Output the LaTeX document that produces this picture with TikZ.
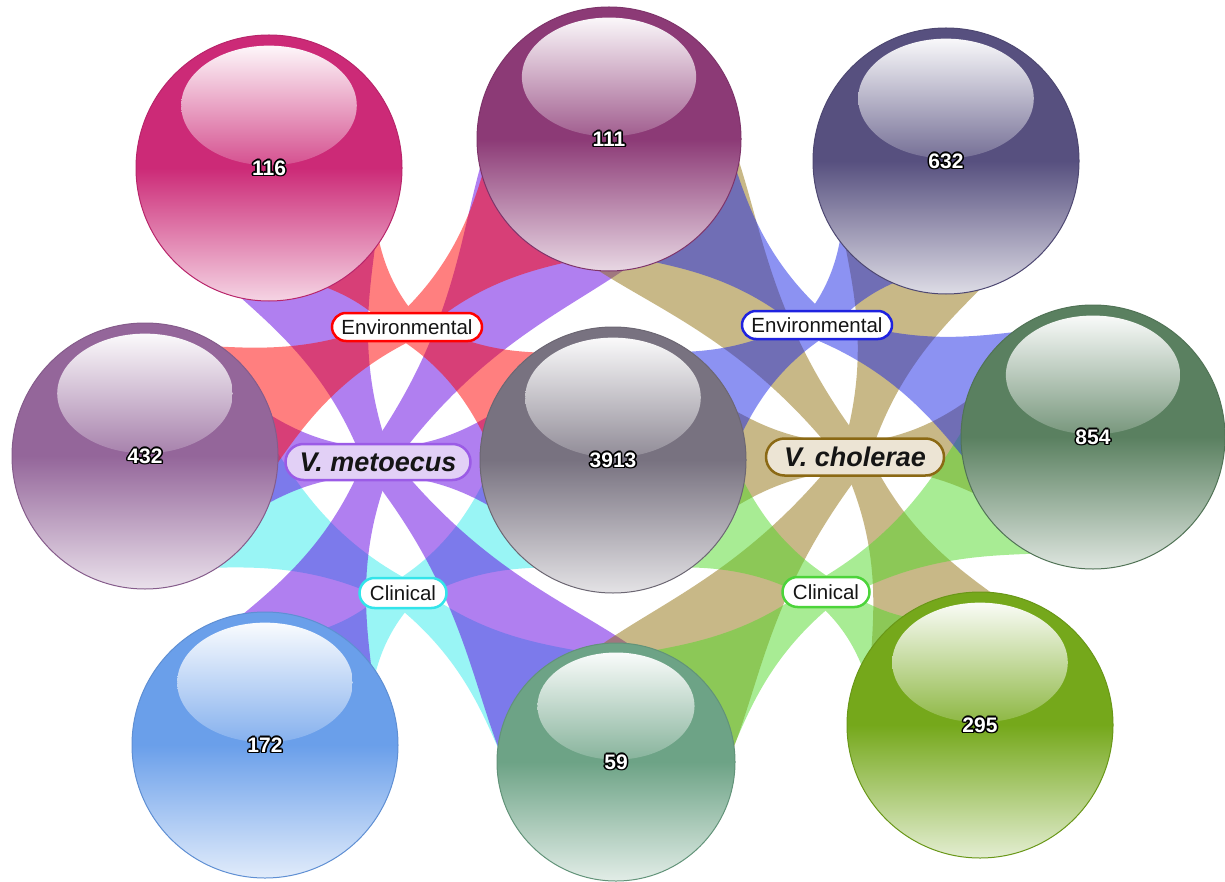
\documentclass[tikz,border=0pt]{standalone}
\usepackage{fontspec}
\setmainfont{Liberation Sans}
\usetikzlibrary{calc,shapes.misc}

% sphere colours
\definecolor{cA}{HTML}{CC2A77}
\definecolor{cB}{HTML}{8C3A76}
\definecolor{cC}{HTML}{57507F}
\definecolor{cD}{HTML}{94669A}
\definecolor{cE}{HTML}{787280}
\definecolor{cF}{HTML}{5A8060}
\definecolor{cG}{HTML}{6A9FEA}
\definecolor{cH}{HTML}{6DA386}
\definecolor{cI}{HTML}{75A81B}
% ribbon colours (drawn at half opacity)
\definecolor{rRed}{HTML}{FF0000}
\definecolor{rPur}{HTML}{6100E1}
\definecolor{rTan}{HTML}{91710F}
\definecolor{rBlu}{HTML}{1925E5}
\definecolor{rCya}{HTML}{33EBEB}
\definecolor{rGrn}{HTML}{51D929}
% label colours
\definecolor{bPur}{HTML}{9B5BE6}
\definecolor{fPur}{HTML}{E2D0F6}
\definecolor{bTan}{HTML}{8B6914}
\definecolor{fTan}{HTML}{ECE4D4}
\definecolor{bBlu}{HTML}{1E22E0}
\definecolor{bCya}{HTML}{33E4EA}
\definecolor{bGrn}{HTML}{4CD43A}
\definecolor{ink}{HTML}{151515}

\pgfdeclarelayer{ribbons}
\pgfsetlayers{ribbons,main}

% white digits with a dark outline
\newcommand\outlined[1]{{%
  \def\o##1##2{\makebox[0pt][l]{\hspace*{##1}\raisebox{##2}{\color{black}#1}}}%
  \o{-0.8pt}{0pt}\o{0.8pt}{0pt}\o{0pt}{0.8pt}\o{0pt}{-0.8pt}%
  \o{-0.6pt}{-0.6pt}\o{0.6pt}{0.6pt}\o{-0.6pt}{0.6pt}\o{0.6pt}{-0.6pt}%
  {\color{white}#1}}}

% glossy sphere: name, x, y, radius (px), colour, count
% (a shaded path is covered by the middle 25bp--75bp band of the shading)
\newcommand\sphere[6]{%
  \pgfdeclareverticalshading{body-#1}{100bp}{color(0bp)=(#5!20!white);
    color(25bp)=(#5!20!white); color(50bp)=(#5); color(100bp)=(#5)}%
  \pgfdeclareverticalshading{gloss-#1}{100bp}{color(0bp)=(#5!82!white);
    color(25bp)=(#5!82!white); color(75bp)=(#5!4!white); color(100bp)=(#5!4!white)}%
  \shade[shading=body-#1] (#2,#3) circle[radius={#4*0.5pt}];
  \draw[#5!90!black, line width=0.5pt] (#2,#3) circle[radius={#4*0.5pt}];
  \shade[shading=gloss-#1]
    (#2,{#3-0.47*#4}) ellipse[x radius={0.66*#4*0.5pt}, y radius={0.45*#4*0.5pt}];
  \node[count] (#1) at (#2,#3) {\outlined{#6}};}

% tapered ribbon from a label to a sphere of given radius (px)
\def\ribw{7}       % half width at the label, pt
\def\ribend{0.41}  % half width at the sphere centre, share of the radius in px
\def\bA{0.52}
\def\bB{0.3}
\newcommand\ribbon[3]{%
  \fill[ribcolor] let \p1=(#1.center), \p2=(#2.center),
    \n1={atan2(\y2-\y1,\x2-\x1)+90},
    \n2={#3*\ribend}
  in ({\x1+\ribw*cos(\n1)},{\y1+\ribw*sin(\n1)})
   .. controls ({\x1+\ribw*cos(\n1)+\bA*(\x2-\x1)},{\y1+\ribw*sin(\n1)+\bA*(\y2-\y1)})
   and ({\x2+\n2*cos(\n1)-\bB*(\x2-\x1)},{\y2+\n2*sin(\n1)-\bB*(\y2-\y1)})
   .. ({\x2+\n2*cos(\n1)},{\y2+\n2*sin(\n1)})
   -- ({\x2-\n2*cos(\n1)},{\y2-\n2*sin(\n1)})
   .. controls ({\x2-\n2*cos(\n1)-\bB*(\x2-\x1)},{\y2-\n2*sin(\n1)-\bB*(\y2-\y1)})
   and ({\x1-\ribw*cos(\n1)+\bA*(\x2-\x1)},{\y1-\ribw*sin(\n1)+\bA*(\y2-\y1)})
   .. ({\x1-\ribw*cos(\n1)},{\y1-\ribw*sin(\n1)}) -- cycle;}

\tikzset{
  count/.style={inner sep=0pt, font=\fontsize{10.5pt}{12pt}\selectfont\bfseries},
  tag/.style={rounded rectangle, inner sep=0pt, line width=1.25pt, fill=white,
    text=ink, font=\fontsize{10.25pt}{12pt}\selectfont},
  species/.style={rounded rectangle, inner sep=0pt, line width=1.25pt,
    text=ink, font=\fontsize{13.5pt}{16pt}\selectfont\bfseries\itshape},
  band/.style={transparency group, opacity=0.5, ribcolor/.style={fill=#1}},
}

\begin{document}
\begin{tikzpicture}[x=0.5pt, y=-0.5pt]
\useasboundingbox (0,0) rectangle (1225,882);

% spheres
\sphere{s116}{269}{168}{133}{cA}{116}
\sphere{s111}{609}{139}{132}{cB}{111}
\sphere{s632}{946}{161}{133}{cC}{632}
\sphere{s432}{145}{456}{133}{cD}{432}
\sphere{s3913}{613}{460}{133}{cE}{3913}
\sphere{s854}{1093}{437}{132}{cF}{854}
\sphere{s172}{265}{745}{133}{cG}{172}
\sphere{s59}{616}{762}{119}{cH}{59}
\sphere{s295}{980}{725}{133}{cI}{295}

% attribute labels
\node[tag, draw=red, minimum width=75pt, minimum height=14pt] (envM) at (407,327) {Environmental};
\node[tag, draw=bBlu, minimum width=75pt, minimum height=14pt] (envC) at (817,325) {Environmental};
\node[species, draw=bPur, fill=fPur, minimum width=92.5pt, minimum height=18pt] (met) at (378,462) {V. metoecus};
\node[species, draw=bTan, fill=fTan, minimum width=89pt, minimum height=18.5pt] (cho) at (855,457) {V. cholerae};
\node[tag, draw=bCya, minimum width=43.5pt, minimum height=15pt] (cliM) at (403,593) {Clinical};
\node[tag, draw=bGrn, minimum width=43.5pt, minimum height=15pt] (cliC) at (826,592) {Clinical};

% ribbons behind everything
\begin{pgfonlayer}{ribbons}
\begin{scope}[band=rCya]
  \ribbon{cliM}{s432}{133}\ribbon{cliM}{s3913}{133}
  \ribbon{cliM}{s172}{133}\ribbon{cliM}{s59}{119}
\end{scope}
\begin{scope}[band=rPur]
  \ribbon{met}{s116}{133}\ribbon{met}{s111}{132}\ribbon{met}{s432}{133}
  \ribbon{met}{s3913}{133}\ribbon{met}{s172}{133}\ribbon{met}{s59}{119}
\end{scope}
\begin{scope}[band=rTan]
  \ribbon{cho}{s111}{132}\ribbon{cho}{s632}{133}\ribbon{cho}{s3913}{133}
  \ribbon{cho}{s854}{132}\ribbon{cho}{s59}{119}\ribbon{cho}{s295}{133}
\end{scope}
\begin{scope}[band=rGrn]
  \ribbon{cliC}{s3913}{133}\ribbon{cliC}{s854}{132}
  \ribbon{cliC}{s59}{119}\ribbon{cliC}{s295}{133}
\end{scope}
\begin{scope}[band=rRed]
  \ribbon{envM}{s116}{133}\ribbon{envM}{s111}{132}
  \ribbon{envM}{s432}{133}\ribbon{envM}{s3913}{133}
\end{scope}
\begin{scope}[band=rBlu]
  \ribbon{envC}{s111}{132}\ribbon{envC}{s632}{133}
  \ribbon{envC}{s3913}{133}\ribbon{envC}{s854}{132}
\end{scope}
\end{pgfonlayer}
\end{tikzpicture}
\end{document}
